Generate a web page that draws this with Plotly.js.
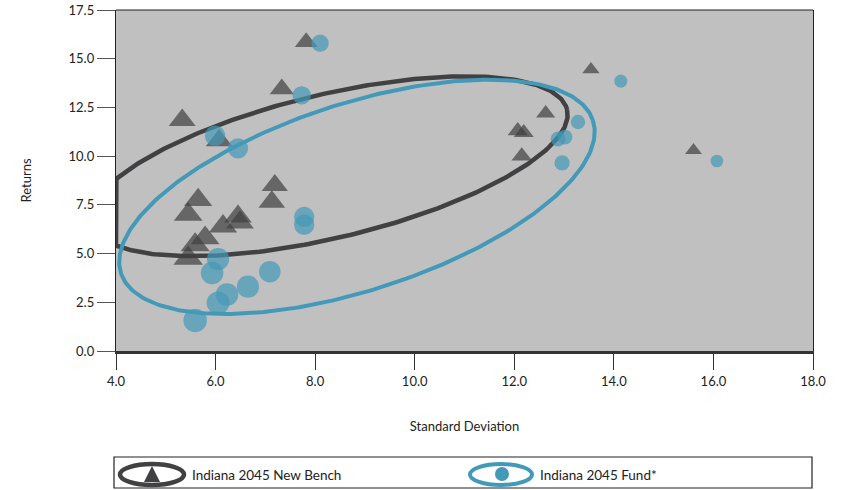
<!DOCTYPE html>
<html><head><meta charset="utf-8">
<script src="https://cdn.plot.ly/plotly-3.0.1.min.js"></script>
<style>html,body{margin:0;padding:0;background:#fff}#chart{width:846px;height:490px}</style>
</head><body><div id="chart"></div>
<script>
// ---- data ----
const benchName = 'Indiana 2045 New Bench';
const fundName = 'Indiana 2045 Fund*';
const xTitle = 'Standard Deviation';
const yTitle = 'Returns';

const benchSD  = [7.82, 7.33, 5.33, 6.07, 13.54, 12.63, 12.07, 12.19, 12.15, 15.60, 7.19, 7.13, 5.65, 5.45, 6.45, 6.49, 6.15, 5.79, 5.59, 5.45];
const benchRet = [15.85, 13.45, 11.85, 10.80, 14.45, 12.20, 11.30, 11.20, 10.00, 10.30, 8.50, 7.65, 7.75, 7.00, 6.90, 6.60, 6.40, 5.80, 5.45, 4.75];

const fundSD  = [8.10, 7.73, 5.99, 6.45, 14.14, 13.28, 12.88, 13.02, 12.96, 16.07, 7.78, 7.78, 6.05, 5.93, 7.09, 6.65, 6.23, 6.05, 5.59];
const fundRet = [15.80, 13.12, 11.05, 10.40, 13.85, 11.75, 10.88, 10.98, 9.65, 9.75, 6.88, 6.48, 4.72, 4.00, 4.07, 3.30, 2.90, 2.47, 1.57];

const xTickVals = [4, 6, 8, 10, 12, 14, 16, 18];
const yTickVals = [0, 2.5, 5, 7.5, 10, 12.5, 15, 17.5];

// ellipse outlines: centre and two conjugate half-axes (data units)
const benchEllipseCenter = [8.28, 9.48];
const benchEllipseAxisA  = [4.78, 2.91];
const benchEllipseAxisB  = [0.34, -3.58];
const fundEllipseCenter  = [8.84, 7.91];
const fundEllipseAxisA   = [4.74, 3.92];
const fundEllipseAxisB   = [0.58, -4.56];

// ---- styles ----
const DARK = '#414042';
const BLUE = '#4399b8';
const FONT = 'Lato, "Open Sans", sans-serif';

function ellipse(c, a, b, xmin) {
  const xs = [], ys = [];
  for (let i = 0; i <= 360; i++) {
    const t = i * Math.PI / 180;
    let x = c[0] + a[0] * Math.cos(t) + b[0] * Math.sin(t);
    const y = c[1] + a[1] * Math.cos(t) + b[1] * Math.sin(t);
    if (x < xmin) x = xmin;
    xs.push(x); ys.push(y);
  }
  return [xs, ys];
}
function sizeFor(x, y) { return 28.5 - 0.8 * x - 0.3 * y; }

const be = ellipse(benchEllipseCenter, benchEllipseAxisA, benchEllipseAxisB, xTickVals[0]);
const fe = ellipse(fundEllipseCenter, fundEllipseAxisA, fundEllipseAxisB, xTickVals[0]);

const traces = [
  {x: be[0], y: be[1], mode: 'lines', line: {color: DARK, width: 4.5}, hoverinfo: 'skip', showlegend: false},
  {x: fe[0], y: fe[1], mode: 'lines', line: {color: BLUE, width: 4}, hoverinfo: 'skip', showlegend: false},
  {x: benchSD, y: benchRet, mode: 'markers', name: benchName, showlegend: false,
   marker: {symbol: 'triangle-up', color: DARK, size: benchSD.map((x, i) => 1.13 * sizeFor(x, benchRet[i])), line: {width: 0}}},
  {x: fundSD, y: fundRet, mode: 'markers', name: fundName, showlegend: false,
   marker: {symbol: 'circle', color: BLUE, size: fundSD.map((x, i) => sizeFor(x, fundRet[i])), line: {width: 0}}}
];

// paper-coordinate helpers for the legend box drawn below the plot
const L = 116, R = 813, T = 10, B = 351;
const px = v => (v - L) / (R - L);
const py = v => (B - v) / (B - T);

const shapes = [
  {type: 'rect', xref: 'paper', yref: 'paper', x0: px(114), x1: px(812), y0: py(488), y1: py(457), line: {color: '#222', width: 1.2}, fillcolor: 'rgba(0,0,0,0)'},
  {type: 'circle', xref: 'paper', yref: 'paper', x0: px(120), x1: px(184), y0: py(485), y1: py(464), line: {color: DARK, width: 4.5}},
  {type: 'path', xref: 'paper', yref: 'paper', path: `M ${px(144)} ${py(482)} L ${px(160)} ${py(482)} L ${px(152)} ${py(466)} Z`, fillcolor: DARK, line: {width: 0}},
  {type: 'circle', xref: 'paper', yref: 'paper', x0: px(470), x1: px(532), y0: py(485), y1: py(464), line: {color: BLUE, width: 4}},
  {type: 'circle', xref: 'paper', yref: 'paper', x0: px(495), x1: px(509), y0: py(481), y1: py(467), fillcolor: BLUE, line: {width: 0}},
  {type: 'line', xref: 'paper', yref: 'paper', x0: 0, x1: 1, y0: 1, y1: 1, line: {color: '#222', width: 1.2}}
];

const annotations = [
  {xref: 'paper', yref: 'paper', x: px(190), y: py(475), xanchor: 'left', yanchor: 'middle', text: benchName, showarrow: false, font: {family: FONT, size: 13.5, color: '#222'}},
  {xref: 'paper', yref: 'paper', x: px(538), y: py(475), xanchor: 'left', yanchor: 'middle', text: fundName, showarrow: false, font: {family: FONT, size: 13.5, color: '#222'}}
];

const layout = {
  width: 846, height: 490,
  margin: {l: L, r: 846 - R, t: T, b: 490 - B},
  paper_bgcolor: '#ffffff', plot_bgcolor: '#c0c0c0',
  font: {family: FONT, size: 13, color: '#222'},
  showlegend: false,
  xaxis: {range: [4, 18], tickvals: xTickVals, tickformat: '.1f', ticks: 'outside', ticklen: 16, tickcolor: '#333', tickwidth: 1,
          showgrid: false, zeroline: false, showline: true, linecolor: '#333', linewidth: 3,
          title: {text: xTitle, standoff: 35, font: {family: FONT, size: 13, color: '#222'}}},
  yaxis: {range: [0, 17.5], tickvals: yTickVals, tickformat: '.1f', ticks: 'outside', ticklen: 18, tickcolor: '#555', tickwidth: 1,
          showgrid: false, zeroline: false, showline: true, linecolor: '#222', linewidth: 1.2, mirror: true,
          title: {text: yTitle, standoff: 34, font: {family: FONT, size: 13, color: '#222'}}},
  shapes: shapes, annotations: annotations
};

Plotly.newPlot('chart', traces, layout, {displayModeBar: false, staticPlot: true});
</script></body></html>
